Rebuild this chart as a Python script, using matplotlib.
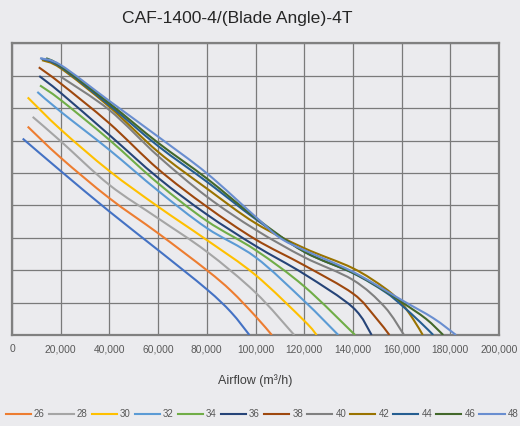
import matplotlib
matplotlib.use("Agg")
import matplotlib.pyplot as plt
from matplotlib.lines import Line2D
from matplotlib.path import Path
from matplotlib.patches import PathPatch
from matplotlib.ticker import FuncFormatter, MultipleLocator

plt.rcParams['font.family'] = ['Liberation Sans', 'DejaVu Sans']

# ---- data: airflow (m3/h) vs static pressure (Pa), per blade angle ----
flow_24 = [4400, 20000, 40000, 60000, 80000, 90000, 97500]
pres_24 = [606, 506, 381, 262, 141, 70, 0]

flow_26 = [6450, 20000, 40000, 60000, 80000, 90000, 100000, 106700]
pres_26 = [643, 547, 422, 314, 200, 136, 58, 0]

flow_28 = [8500, 20000, 40000, 60000, 80000, 100000, 115900]
pres_28 = [673, 598, 463, 360, 257, 131, 0]

flow_30 = [6450, 20000, 40000, 60000, 80000, 100000, 120000, 125100]
pres_30 = [733, 634, 506, 396, 293, 185, 44, 0]

flow_32 = [10400, 20000, 40000, 60000, 80000, 100000, 120000, 134000]
pres_32 = [750, 689, 571, 445, 330, 240, 105, 0]

flow_34 = [11500, 20000, 40000, 60000, 80000, 100000, 120000, 140900]
pres_34 = [770, 725, 602, 468, 352, 262, 150, 0]

flow_36 = [11200, 20000, 40000, 60000, 80000, 100000, 120000, 140000, 147700]
pres_36 = [799, 747, 617, 485, 372, 275, 188, 85, 0]

flow_38 = [11000, 20000, 40000, 60000, 80000, 100000, 120000, 140000, 149000, 155000]
pres_38 = [826, 776, 653, 512, 396, 295, 215, 128, 57, 0]

flow_40 = [20000, 40000, 60000, 80000, 100000, 120000, 140000, 153000, 161000]
pres_40 = [797, 694, 552, 427, 325, 240, 170, 87, 0]

flow_42 = [12300, 20000, 40000, 60000, 80000, 100000, 120000, 140000, 153200, 160000, 165000, 168700]
pres_42 = [848, 823, 704, 565, 452, 345, 268, 206, 144, 98, 46, 0]

flow_44 = [12000, 20000, 40000, 60000, 80000, 100000, 120000, 140000, 153200, 160000, 167600, 173000]
pres_44 = [853, 827, 709, 583, 473, 358, 257, 191, 133, 92, 40, 0]

flow_46 = [14000, 20000, 40000, 60000, 80000, 100000, 120000, 140000, 153200, 160000, 170000, 177100]
pres_46 = [854, 830, 715, 593, 483, 362, 257, 192, 136, 102, 50, 0]

flow_48 = [11500, 20000, 40000, 60000, 80000, 100000, 110000, 120000, 140000, 160000, 173000, 182350]
pres_48 = [854, 833, 722, 612, 499, 365, 300, 262, 195, 108, 52, 0]

angles = ['24', '26', '28', '30', '32', '34', '36', '38', '40', '42', '44', '46', '48']
flows = [flow_24, flow_26, flow_28, flow_30, flow_32, flow_34, flow_36, flow_38,
         flow_40, flow_42, flow_44, flow_46, flow_48]
pressures = [pres_24, pres_26, pres_28, pres_30, pres_32, pres_34, pres_36, pres_38,
             pres_40, pres_42, pres_44, pres_46, pres_48]
colors = ['#4472C4', '#ED7D31', '#A5A5A5', '#FFC000', '#5B9BD5', '#70AD47', '#264478',
          '#9E480E', '#808080', '#997300', '#255E91', '#43682B', '#698ED0']
show_in_legend = [False] + [True] * 12

title = 'CAF-1400-4/(Blade Angle)-4T'
x_label = 'Airflow (m\u00b3/h)'


def smoothed_path(xs, ys):
    """Excel-style smoothed line: cubic Bezier segments through the data points."""
    pts = list(zip(xs, ys))
    n = len(pts)
    verts = [pts[0]]
    codes = [Path.MOVETO]
    for i in range(n - 1):
        p0 = pts[i - 1] if i > 0 else pts[i]
        p1 = pts[i]
        p2 = pts[i + 1]
        p3 = pts[i + 2] if i + 2 < n else pts[i + 1]
        c1 = (p1[0] + (p2[0] - p0[0]) / 6.0, p1[1] + (p2[1] - p0[1]) / 6.0)
        c2 = (p2[0] - (p3[0] - p1[0]) / 6.0, p2[1] - (p3[1] - p1[1]) / 6.0)
        verts += [c1, c2, p2]
        codes += [Path.CURVE4] * 3
    return Path(verts, codes)


bg = '#EBEBEE'
fig = plt.figure(figsize=(5.2, 4.26), dpi=100, facecolor=bg)
ax = fig.add_axes([12/520, 1-335/426, (499-12)/520, (335-43.3)/426])
ax.set_facecolor(bg)

handles, labels = [], []
for a, fx, py, c, show in zip(angles, flows, pressures, colors, show_in_legend):
    ax.add_patch(PathPatch(smoothed_path(fx, py), fill=False, edgecolor=c, lw=1.5,
                           capstyle='butt', joinstyle='round', zorder=3))
    if show:
        handles.append(Line2D([], [], color=c, lw=1.5))
        labels.append(a)

ax.set_xlim(0, 200000)
ax.set_ylim(0, 900)
ax.xaxis.set_major_locator(MultipleLocator(20000))
ax.yaxis.set_major_locator(MultipleLocator(100))
ax.xaxis.set_major_formatter(FuncFormatter(lambda v, p: f'{int(v):,}'))
ax.set_yticklabels([])
ax.tick_params(axis='both', length=0, labelsize=7.4, labelcolor='#595959')
ax.tick_params(axis='x', pad=6.5)
ax.grid(True, color='#7a7a7a', lw=0.9, zorder=1)
ax.set_axisbelow(True)
for s in ax.spines.values():
    s.set_color('#808080')
    s.set_linewidth(1.6)

fig.text(237/520, 1-18/426, title, ha='center', va='center', fontsize=12.6, color='#262626')
fig.text(255/520, 1-381/426, x_label, ha='center', va='center', fontsize=9, color='#404040')

fig.legend(handles, labels, loc='center', bbox_to_anchor=(262/520, 1-414/426), ncol=12,
           frameon=False, fontsize=7, labelcolor='#595959', handlelength=2.6,
           handletextpad=0.3, columnspacing=0.42, borderaxespad=0, borderpad=0)

fig.savefig('out.png', dpi=100, facecolor=bg)
